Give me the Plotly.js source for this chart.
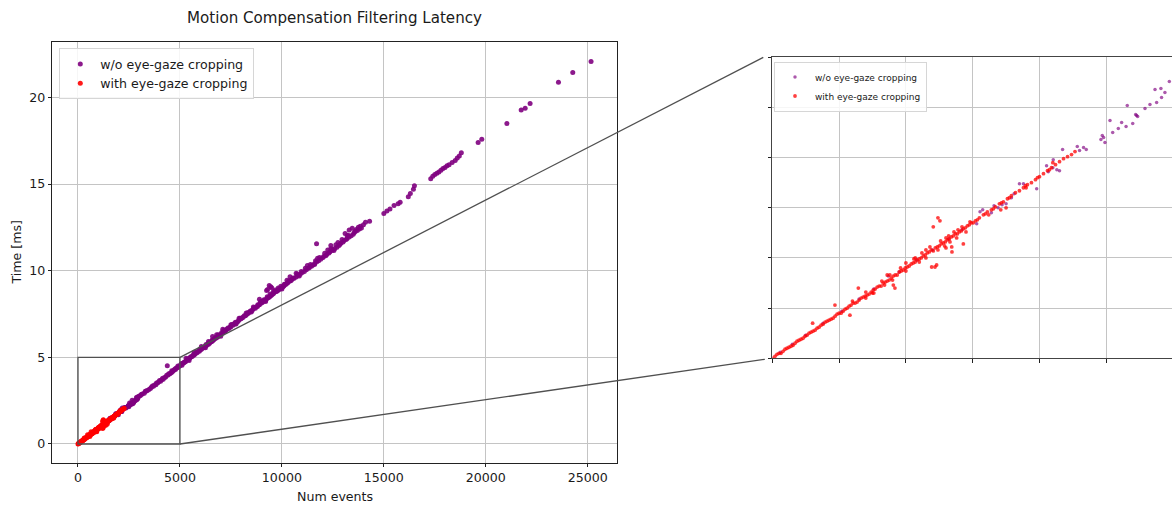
<!DOCTYPE html>
<html>
<head>
<meta charset="utf-8">
<script src="https://cdn.plot.ly/plotly-3.0.1.min.js"></script>
<style>html,body{margin:0;padding:0;background:#fff;}#chart{width:1172px;height:508px;}</style>
</head>
<body>
<div id="chart"></div>
<script>
// ---------- data ----------
const purpleX = [
  60,150,250,380,520,650,760,868,950,1080,
  1200,1320,1420,1530,1555,1575,1640,1660,1690,1720,
  1750,1790,1810,1850,1880,1979,2053,2066,2103,2100,
  2130,2150,2173,2283,2300,2330,2350,2460,2470,2490,
  2480,2528,2548,2590,2615,2648,2657,2698,2720,2735,
  2727,2790,2827,2865,2877,2909,2914,2939,2972,3050,
  3150,3250,3300,3400,3480,3550,3600,3700,3750,3820,
  3900,3950,4050,4100,4180,4250,4300,4380,4420,4500,
  4550,4600,4650,4700,4780,4820,4880,4950,5000,5050,
  5100,5150,5200,5250,5300,5350,5400,5450,5500,5550,
  5600,5650,5700,5750,5800,5850,5900,5950,6000,6050,
  6100,6150,6200,6250,6300,6350,6400,6450,6500,6550,
  6600,6650,6700,6750,6800,6850,6900,6950,7000,7100,
  7150,7200,7250,7300,7400,7450,7500,7600,7650,7700,
  7800,7850,7900,8000,8050,8100,8200,8250,8300,8350,
  8400,8500,8550,8600,8700,8750,8800,8850,8900,8950,
  9000,9050,9100,9150,9200,9250,9300,9350,9400,9450,
  9300,9450,9500,9550,9600,9700,9750,9800,9850,9900,
  10000,10050,10100,10150,10200,10250,10300,10400,10450,10500,
  10600,10700,10800,10900,11000,11100,11200,11300,11350,11450,
  11500,11600,11700,11700,11800,11900,12000,12050,12150,12200,
  12300,12350,12450,12500,12600,12700,12800,12850,12900,13000,
  13050,13150,13200,13300,13400,13450,13500,13550,13600,13700,
  13800,13900,14100,14300,15000,15150,15300,15500,15700,15800,
  16200,16300,16450,16500,17300,17400,17500,17600,17700,17800,
  17900,18000,18100,18200,18350,18500,18600,18700,18800,19624,
  19804,21034,21735,21931,22173,23563,24265,25162,
  3100,3350,3650,3850,4000,4150,4350,4450,4600,4750,
  4900,5080,5220,5380,5520,5680,5820,5980,6120,6280,
  6420,6580,6720,6880,7050,7220,7350,7550,7720,7950,
  8150,8320,8450,8650,8820,8980,9120,9280,9420,9580,
  9680,9820,9950,10120,10350,10550,10750,10950,11150,11400,
  11650,11850,12100,12400,12650,12950,13250,13650,13850,14000,
  9380,9500,9250,8900,7100,6600,10400,12400,13300,13100,
  5300,5700,6050,6400,6800,7150,7500,7900,8250,8600,
  8950,9650,10250,10700,11250,11750,12250,12750,13200,13750,
  5450,6250,7000,7750,8500,9200,10000,10850,11600,12550
];
const purpleY = [
  0.06,0.14,0.23,0.35,0.47,0.59,0.69,0.82,0.86,0.98,
  1.08,1.19,1.28,1.34,1.46,1.48,1.45,1.52,1.50,1.53,
  1.54,1.60,1.64,1.74,1.74,1.69,1.92,1.86,1.98,1.90,
  1.88,1.87,2.08,2.11,2.07,2.10,2.08,2.18,2.22,2.15,
  2.20,2.37,2.25,2.29,2.35,2.31,2.52,2.34,2.43,2.41,
  2.42,2.49,2.53,2.68,2.55,2.69,2.60,2.65,2.76,2.78,
  2.88,2.93,3.04,3.08,3.14,3.20,3.27,3.33,3.41,3.42,
  3.52,3.57,3.62,3.71,3.74,3.83,3.86,4.51,3.98,4.05,
  4.10,4.14,4.20,4.26,4.30,4.38,4.40,4.47,4.52,4.60,
  4.55,4.66,4.70,4.74,4.78,4.86,4.88,4.93,4.97,5.04,
  5.05,5.12,5.14,5.20,5.25,5.28,5.36,5.35,5.42,5.46,
  5.52,5.55,5.60,5.66,5.68,5.74,5.76,5.82,5.88,5.90,
  5.96,6.00,6.07,6.10,6.14,6.18,6.24,6.28,6.32,6.40,
  6.48,6.50,6.55,6.62,6.66,6.74,6.76,6.85,6.94,6.92,
  7.02,7.08,7.15,7.22,7.28,7.32,7.40,7.45,7.52,7.55,
  7.60,7.68,7.72,7.80,7.84,7.92,7.94,8.02,8.04,8.12,
  8.14,8.18,8.24,8.30,8.28,8.38,8.42,8.45,8.50,8.56,
  8.92,9.08,8.60,8.66,8.70,8.78,8.82,8.86,8.92,8.95,
  9.02,9.08,9.12,9.20,9.22,9.28,9.32,9.40,9.44,9.50,
  9.56,9.64,9.74,9.80,9.90,9.96,10.06,10.14,10.18,10.26,
  10.32,10.40,11.55,10.50,10.58,10.66,10.74,10.82,10.86,10.94,
  11.02,11.08,11.16,11.22,11.28,11.36,11.46,11.52,11.60,11.66,
  11.74,11.80,11.86,11.94,12.02,12.45,12.10,12.20,12.26,12.32,
  12.40,12.46,12.80,12.86,13.30,13.45,13.56,13.76,13.86,13.95,
  14.26,14.46,14.70,14.90,15.30,15.45,15.55,15.62,15.70,15.80,
  15.90,15.96,16.06,16.12,16.25,16.36,16.50,16.62,16.80,17.40,
  17.58,18.50,19.27,19.38,19.65,20.88,21.44,22.07,
  2.86,3.06,3.34,3.52,3.66,3.80,3.96,4.06,4.22,4.33,
  4.50,4.64,4.72,4.90,5.02,5.18,5.30,5.46,5.56,5.74,
  5.84,6.00,6.12,6.30,6.44,6.58,6.70,6.90,7.02,7.26,
  7.40,7.58,7.68,7.88,8.04,8.22,8.32,8.50,8.66,8.78,
  8.88,9.00,9.10,9.22,9.40,9.58,9.80,9.96,10.14,10.36,
  10.58,10.76,11.00,11.26,11.50,11.80,12.04,12.38,12.56,12.65,
  9.15,9.02,8.85,8.35,6.62,6.20,9.65,11.45,12.35,12.15,
  4.95,5.30,5.62,5.92,6.30,6.55,6.88,7.25,7.56,7.90,
  8.20,8.80,9.45,9.85,10.30,10.72,11.20,11.62,12.02,12.50,
  4.82,5.55,6.22,6.92,7.62,8.22,8.95,9.70,10.36,11.16
];
const redX = [
  0,20,50,80,110,140,170,200,230,260,
  290,302,320,350,380,410,440,469,470,500,
  530,560,581,590,620,644,650,680,710,740,
  770,800,830,860,890,906,918,920,950,980,
  1010,1040,1070,1100,1130,1160,1193,1205,1218,1190,
  1220,1250,1255,1280,1310,1343,1345,1340,1370,1400,
  1430,1430,1460,1490,1520,1550,1580,1610,1640,1670,
  1700,1730,1760,1790,1820,1850,1880,1910,1940,1970,
  2000,2030,2060,2090,2120,2150,2180,2210,2240,2266,
  35,65,95,125,155,185,215,245,275,305,
  335,365,395,425,455,485,515,545,575,605,
  635,665,695,725,755,785,815,845,875,905,
  935,965,995,1025,1055,1085,1115,1145,1175,1205,
  1235,1265,1295,1325,1355,1385,1415,1445,1475,1505,
  1535,1595,1655,1715,1775,1895,1985,2075,
  600,700,820,880,960,1060,1120,1150,1180,1260,
  1300,1320,1360,1390,1420,1480,
  700,750,840,900,1000,1100,1150,1240,1290,1330,
  1380,1450,1620,1900,
  1000,1230,1300,1240,1710,1750,1070,860,760,2100
];
const redY = [
  0.00,0.02,0.05,0.07,0.10,0.12,0.15,0.18,0.20,0.23,
  0.26,0.35,0.28,0.31,0.34,0.37,0.39,0.53,0.42,0.45,
  0.47,0.50,0.43,0.53,0.55,0.70,0.58,0.61,0.63,0.66,
  0.69,0.72,0.75,0.77,0.80,0.73,0.70,0.83,0.86,0.88,
  0.91,0.94,0.96,0.99,1.02,1.05,0.91,1.31,0.91,1.08,
  1.10,1.12,1.37,1.15,1.18,1.11,1.06,1.21,1.24,1.26,
  1.14,1.29,1.32,1.35,1.37,1.40,1.43,1.46,1.48,1.51,
  1.54,1.56,1.59,1.62,1.65,1.67,1.70,1.73,1.75,1.78,
  1.81,1.84,1.87,1.90,1.93,1.96,1.99,2.01,2.03,2.06,
  0.04,0.05,0.09,0.11,0.13,0.17,0.19,0.22,0.25,0.27,
  0.30,0.33,0.36,0.38,0.40,0.44,0.45,0.49,0.52,0.55,
  0.56,0.60,0.62,0.64,0.68,0.71,0.72,0.76,0.78,0.82,
  0.83,0.87,0.90,0.92,0.95,0.98,1.00,1.03,1.06,1.07,
  1.11,1.14,1.16,1.19,1.22,1.24,1.27,1.30,1.33,1.35,
  1.38,1.44,1.49,1.55,1.60,1.72,1.80,1.88,
  0.57,0.66,0.77,0.83,0.90,0.99,1.05,1.08,1.11,1.17,
  1.20,1.22,1.26,1.28,1.31,1.36,
  0.60,0.65,0.73,0.78,0.87,0.96,1.00,1.08,1.12,1.16,
  1.20,1.26,1.43,1.70,
  0.95,0.93,1.10,1.40,1.48,1.50,1.00,0.83,0.65,1.95
];
const seriesNames = ['w/o eye-gaze cropping', 'with eye-gaze cropping'];
const mainXTicks = [0, 5000, 10000, 15000, 20000, 25000];
const mainYTicks = [0, 5, 10, 15, 20];
const insetXTicks = [0, 500, 1000, 1500, 2000, 2500, 3000];
const insetYTicks = [0, 0.5, 1, 1.5, 2, 2.5, 3];
const zoomBox = [0, 5000, 0, 5];   // x0, x1, y0, y1
const titleText = 'Motion Compensation Filtering Latency';
const xTitle = 'Num events';
const yTitle = 'Time [ms]';

// ---------- layout geometry (pixels) ----------
const W = 1172, H = 508;
const M = {l: 52.3, r: 616.7, t: 42.3, b: 462.7};
const I = {l: 772.3, r: 1172, t: 57.3, b: 358.3};
const mainXR = [-1260, 26420], mainYR = [-1.08, 23.18];
const insXR = [0, 2992], insYR = [0, 3];
const px = v => v / W, py = v => 1 - v / H;

const font = 'DejaVu Sans, sans-serif';
const PURPLE = '#800080', RED = '#ff0000';

const traces = [
  {x: purpleX, y: purpleY, name: seriesNames[0], type: 'scatter', mode: 'markers',
   xaxis: 'x', yaxis: 'y', legend: 'legend',
   marker: {color: PURPLE, size: 5, opacity: 0.9, line: {width: 0}}},
  {x: redX, y: redY, name: seriesNames[1], type: 'scatter', mode: 'markers',
   xaxis: 'x', yaxis: 'y', legend: 'legend',
   marker: {color: RED, size: 5, opacity: 0.9, line: {width: 0}}},
  {x: purpleX, y: purpleY, name: seriesNames[0], type: 'scatter', mode: 'markers',
   xaxis: 'x2', yaxis: 'y2', legend: 'legend2',
   marker: {color: PURPLE, size: 3.5, opacity: 0.65, line: {width: 0}}},
  {x: redX, y: redY, name: seriesNames[1], type: 'scatter', mode: 'markers',
   xaxis: 'x2', yaxis: 'y2', legend: 'legend2',
   marker: {color: RED, size: 3.8, opacity: 0.75, line: {width: 0}}}
];

// map main-axis data to pixel
const mx = v => M.l + (v - mainXR[0]) / (mainXR[1] - mainXR[0]) * (M.r - M.l);
const my = v => M.b - (v - mainYR[0]) / (mainYR[1] - mainYR[0]) * (M.b - M.t);

const lineStyle = {color: '#505050', width: 1.3};
const shapes = [
  {type: 'rect', xref: 'x', yref: 'y', x0: zoomBox[0], x1: zoomBox[1], y0: zoomBox[2], y1: zoomBox[3],
   line: lineStyle, fillcolor: 'rgba(0,0,0,0)'},
  {type: 'line', xref: 'paper', yref: 'paper',
   x0: px(mx(zoomBox[1])), y0: py(my(zoomBox[3])), x1: px(I.l - 9), y1: py(I.t),
   line: lineStyle},
  {type: 'line', xref: 'paper', yref: 'paper',
   x0: px(mx(zoomBox[1])), y0: py(my(zoomBox[2])), x1: px(I.l - 7.5), y1: py(I.b + 1),
   line: lineStyle}
];

const axisCommon = {
  showline: true, linecolor: '#222', linewidth: 1,
  ticks: 'outside', ticklen: 3.5, tickwidth: 1, tickcolor: '#222',
  showgrid: true, gridcolor: '#c4c4c4', gridwidth: 1,
  zeroline: false, automargin: false,
  tickfont: {family: font, size: 12.6, color: '#1a1a1a'}
};

const layout = {
  width: W, height: H,
  margin: {l: 0, r: 0, t: 0, b: 0, pad: 0},
  paper_bgcolor: '#fff', plot_bgcolor: '#fff',
  showlegend: true,
  title: {text: titleText, x: px((M.l + M.r) / 2), xanchor: 'center', y: py(18), yanchor: 'middle',
          xref: 'paper', yref: 'paper', font: {family: font, size: 15.1, color: '#1a1a1a'}},
  xaxis: Object.assign({}, axisCommon, {domain: [px(M.l), px(M.r)], range: mainXR, mirror: true,
          tickmode: 'array', tickvals: mainXTicks, ticktext: mainXTicks.map(String), anchor: 'y'}),
  yaxis: Object.assign({}, axisCommon, {domain: [py(M.b), py(M.t)], range: mainYR, mirror: true,
          tickmode: 'array', tickvals: mainYTicks, ticktext: mainYTicks.map(String), anchor: 'x'}),
  xaxis2: Object.assign({}, axisCommon, {domain: [px(I.l), 1], range: insXR, mirror: true,
          tickmode: 'array', tickvals: insetXTicks, showticklabels: false, anchor: 'y2', linecolor: '#444'}),
  yaxis2: Object.assign({}, axisCommon, {domain: [py(I.b), py(I.t)], range: insYR, mirror: false,
          tickmode: 'array', tickvals: insetYTicks, showticklabels: false, anchor: 'x2', linecolor: '#444'}),
  legend: {x: px(59.3), y: py(48.3), xanchor: 'left', yanchor: 'top',
           bgcolor: 'rgba(255,255,255,0.85)', bordercolor: '#d6d6d6', borderwidth: 1,
           font: {family: font, size: 12.6, color: '#1a1a1a'}, itemsizing: 'trace'},
  legend2: {x: px(774), y: py(61.5), xanchor: 'left', yanchor: 'top',
           bgcolor: 'rgba(255,255,255,0.85)', bordercolor: '#d6d6d6', borderwidth: 1,
           font: {family: font, size: 9, color: '#1a1a1a'}, itemsizing: 'trace'},
  shapes: shapes,
  annotations: [
    {text: xTitle, xref: 'paper', yref: 'paper', x: px((M.l + M.r) / 2), y: py(496),
     xanchor: 'center', yanchor: 'middle', showarrow: false,
     font: {family: font, size: 12.6, color: '#1a1a1a'}},
    {text: yTitle, xref: 'paper', yref: 'paper', x: px(16), y: py((M.t + M.b) / 2),
     xanchor: 'center', yanchor: 'middle', showarrow: false, textangle: -90,
     font: {family: font, size: 12.6, color: '#1a1a1a'}}
  ]
};

Plotly.newPlot('chart', traces, layout, {displayModeBar: false, staticPlot: true});
</script>
</body>
</html>
